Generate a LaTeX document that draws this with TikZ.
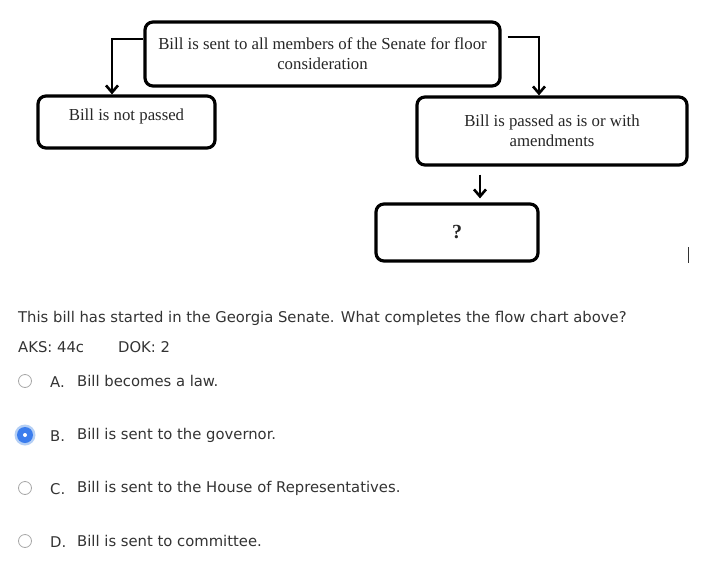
\documentclass[tikz,border=0pt]{standalone}
\usepackage{fontspec}
\setmainfont{Liberation Serif}
\newfontfamily\qfont{DejaVu Sans}
\usetikzlibrary{arrows.meta,calc}
\definecolor{qtext}{HTML}{333333}
\definecolor{radiogray}{HTML}{A8A8A8}
\definecolor{radioblue}{HTML}{3B7DED}
\definecolor{radioglow}{HTML}{B4CFF5}
\begin{document}
\begin{tikzpicture}[x=1pt,y=-1pt,
  flowbox/.style={draw=black,line width=3.2pt,rounded corners=8pt,align=center,font=\fontsize{16.8}{20}\selectfont,text=black!85,inner sep=0pt},
  arr/.style={line width=2.6pt,-{Straight Barb[length=7pt,width=12pt,line width=2.6pt]}},
  qtxt/.style={anchor=west,inner sep=0pt,text=qtext,font=\qfont\fontsize{14.8}{17}\selectfont},
  radio/.style={circle,draw=radiogray,line width=0.8pt,fill=white,minimum size=13pt,inner sep=0pt}]
\useasboundingbox (0,0) rectangle (701,586);
\fill[white] (0,0) rectangle (701,586);
% flowchart
\node[flowbox,minimum width=355pt,minimum height=64pt] (tb) at (322.5,54) {Bill is sent to all members of the Senate for floor\\consideration};
\node[flowbox,minimum width=177pt,minimum height=52pt] (np) at (126.5,122) {Bill is not passed\\[-12pt]\strut};
\node[flowbox,minimum width=270pt,minimum height=68pt] (pb) at (552,131) {Bill is passed as is or with\\amendments};
\node[flowbox,minimum width=162pt,minimum height=57pt,font=\fontsize{20}{22}\selectfont\bfseries] (qb) at (457,232.5) {?};
\draw[arr] ([yshift=15pt]tb.west) -| ([xshift=-14.5pt]np.north);
\draw[arr] ([xshift=6pt,yshift=17pt]tb.east) -| ([xshift=-13pt]pb.north);
\draw[arr] ([xshift=-72pt,yshift=-8pt]pb.south) -- ([xshift=23pt,yshift=4pt]qb.north);
\coordinate (c1) at (688,247);
\coordinate (c2) at (688,263);
\draw[line width=0.8pt,black!80] (c1) -- (c2);
% question
\node[qtxt] (q) at (18,318) {This bill has started in the Georgia Senate. What completes the flow chart above?};
\node[qtxt] (aks) at (18,347) {AKS: 44c};
\node[qtxt] (dok) at (118,347) {DOK: 2};
% options
\node[radio] (ra) at (25,381) {};
\node[qtxt] (la) at (50,382) {A.};
\node[qtxt] (ta) at (77,381) {Bill becomes a law.};
\fill[radioglow] (25,435) circle (10.5pt);
\node[circle,fill=radioblue,minimum size=16pt,inner sep=0pt] (rb) at (25,435) {};
\fill[white] (rb) circle (2pt);
\node[qtxt] (lb) at (50,436) {B.};
\node[qtxt] (tb2) at (77,435) {Bill is sent to the governor.};
\node[radio] (rc) at (25,488) {};
\node[qtxt] (lc) at (50,489) {C.};
\node[qtxt] (tc) at (77,488) {Bill is sent to the House of Representatives.};
\node[radio] (rd) at (25,541) {};
\node[qtxt] (ld) at (50,542) {D.};
\node[qtxt] (td) at (77,541) {Bill is sent to committee.};
\end{tikzpicture}
\end{document}
